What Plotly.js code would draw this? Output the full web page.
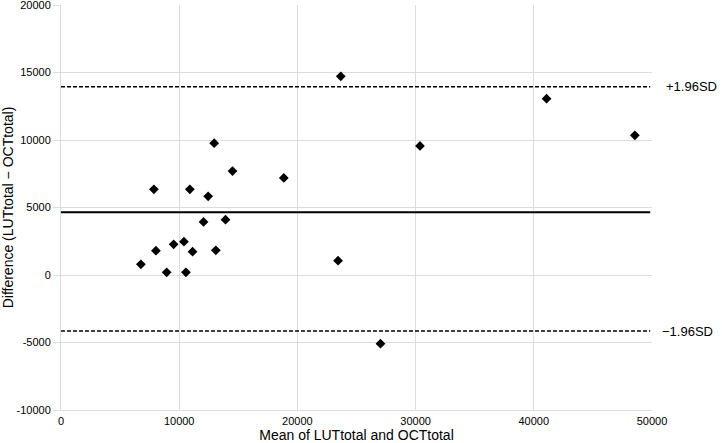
<!DOCTYPE html>
<html>
<head>
<meta charset="utf-8">
<script src="https://cdn.plot.ly/plotly-3.0.1.min.js"></script>
<style>
  html, body { margin: 0; padding: 0; background: #fff; }
  #chart { width: 722px; height: 443px; }
</style>
</head>
<body>
<div id="chart"></div>
<script>
// Bland–Altman plot: mean of the two measurements vs. their difference
const meanValues = [6760, 7860, 8030, 8940, 9530, 10400, 10570, 10900, 11130, 12060,
                    12450, 12960, 13100, 13920, 14510, 18850, 23440, 23670, 27030,
                    30370, 41080, 48550];
const diffValues = [790, 6350, 1800, 200, 2270, 2470, 200, 6350, 1730, 3930,
                    5830, 9760, 1830, 4100, 7700, 7190, 1060, 14720, -5090,
                    9560, 13060, 10350];

// Mean difference and limits of agreement
const meanDiff = [4650];
const upperLoA = [13950];
const lowerLoA = [-4150];
const limitLabels = ['+1.96SD', '\u22121.96SD'];

const xTicks = [0, 10000, 20000, 30000, 40000, 50000];
const yTicks = [-10000, -5000, 0, 5000, 10000, 15000, 20000];

const font = 'Liberation Sans, Arial, Helvetica, sans-serif';
const grid = '#dcdcdc';

const trace = {
  x: meanValues,
  y: diffValues,
  type: 'scatter',
  mode: 'markers',
  marker: { symbol: 'diamond', size: 7.5, color: '#000' },
  hoverinfo: 'x+y',
  showlegend: false
};

function hline(v, dash, width) {
  return {
    type: 'line', xref: 'paper', yref: 'y',
    x0: 0, x1: 0.997, y0: v, y1: v,
    line: { color: '#000', width: width, dash: dash }
  };
}

const layout = {
  width: 722,
  height: 443,
  margin: { l: 61, r: 70, t: 5, b: 33 },
  paper_bgcolor: '#fff',
  plot_bgcolor: '#fff',
  font: { family: font, size: 11, color: '#000' },
  showlegend: false,
  xaxis: {
    range: [0, 50000],
    tickvals: xTicks,
    ticktext: xTicks.map(String),
    showgrid: true, gridcolor: grid, gridwidth: 1,
    showline: true, linecolor: grid, linewidth: 1,
    zeroline: false,
    ticks: '',
    ticklabelstandoff: 1,
    ticklabeloverflow: 'allow',
    tickfont: { size: 11, color: '#000' },
    title: { text: 'Mean of LUTtotal and OCTtotal', font: { size: 14, color: '#000' }, standoff: 4 }
  },
  yaxis: {
    range: [-10000, 20000],
    tickvals: yTicks,
    ticktext: yTicks.map(String),
    showgrid: true, gridcolor: grid, gridwidth: 1,
    showline: true, linecolor: grid, linewidth: 1,
    zeroline: false,
    ticks: 'outside', ticklen: 7, tickcolor: grid,
    ticklabeloverflow: 'allow',
    tickfont: { size: 11, color: '#000' },
    title: { text: 'Difference (LUTtotal \u2212 OCTtotal)', font: { size: 14, color: '#000' }, standoff: 4 }
  },
  shapes: [
    hline(meanDiff[0], 'solid', 2),
    hline(upperLoA[0], '4px,2px', 1.6),
    hline(lowerLoA[0], '4px,2px', 1.6)
  ],
  annotations: [
    { xref: 'paper', yref: 'y', x: 1, y: upperLoA[0], text: limitLabels[0],
      showarrow: false, xanchor: 'left', yanchor: 'middle', xshift: 12,
      font: { family: font, size: 13, color: '#000' } },
    { xref: 'paper', yref: 'y', x: 1, y: lowerLoA[0], text: limitLabels[1],
      showarrow: false, xanchor: 'left', yanchor: 'middle', xshift: 8,
      font: { family: font, size: 13, color: '#000' } }
  ]
};

Plotly.newPlot('chart', [trace], layout, { displayModeBar: false, staticPlot: true });
</script>
</body>
</html>
